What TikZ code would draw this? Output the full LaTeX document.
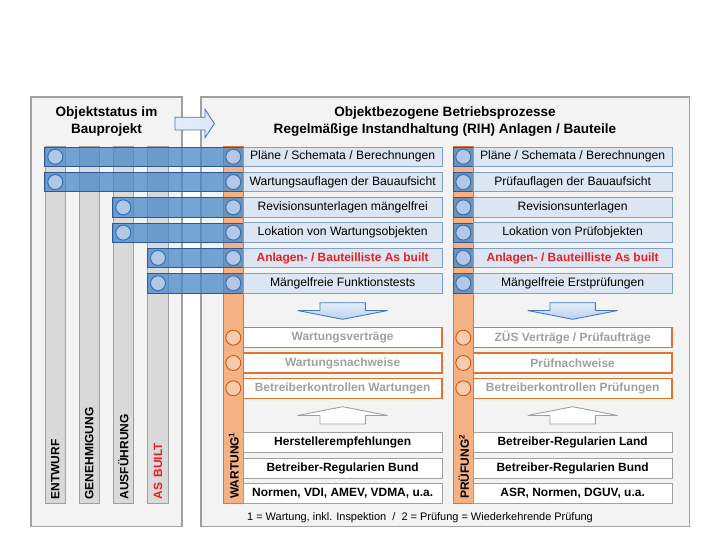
\documentclass[tikz,border=0pt]{standalone}
\usepackage{fontspec}
\setmainfont{Liberation Sans}
\definecolor{panelgray}{RGB}{160,160,160}
\definecolor{panelfill}{RGB}{243,243,243}
\definecolor{barfill}{RGB}{217,217,217}
\definecolor{bandfill}{RGB}{70,135,200}
\definecolor{banddraw}{RGB}{45,90,150}
\definecolor{circfill}{RGB}{180,199,231}
\definecolor{circdraw}{RGB}{46,117,182}
\definecolor{rowfill}{RGB}{220,230,242}
\definecolor{rowdraw}{RGB}{130,160,205}
\definecolor{ocolfill}{RGB}{244,177,131}
\definecolor{ocoldraw}{RGB}{228,115,45}
\definecolor{ocircfill}{RGB}{248,203,173}
\definecolor{ocircdraw}{RGB}{197,90,17}
\definecolor{otext}{RGB}{160,160,160}
\definecolor{redtext}{RGB}{232,30,35}
\definecolor{arrowdraw}{RGB}{70,120,190}
\definecolor{arrowlight}{RGB}{228,237,249}
\definecolor{arrowdark}{RGB}{185,210,240}
\begin{document}
\begin{tikzpicture}[x=1bp,y=-1bp,
  panel/.style={draw=panelgray,fill=panelfill,line width=1.2bp},
  bar/.style={draw=panelgray,fill=barfill,line width=0.8bp},
  band/.style={draw=banddraw,fill=bandfill,fill opacity=0.75,line width=0.7bp},
  ocol/.style={draw=ocoldraw,fill=ocolfill,line width=1bp},
  bcirc/.style={circle,draw=circdraw,fill=circfill,line width=1bp,minimum size=15bp,inner sep=0pt},
  ocirc/.style={circle,draw=ocircdraw,fill=ocircfill,line width=0.9bp,minimum size=15bp,inner sep=0pt},
  rowbox/.style={rectangle,draw=rowdraw,fill=rowfill,line width=0.9bp,minimum width=198.7bp,minimum height=19.5bp,inner sep=0pt,font=\fontsize{12.2}{14}\selectfont},
  obox/.style={rectangle,draw=ocoldraw,fill=white,line width=1.2bp,minimum width=198.7bp,minimum height=20bp,inner sep=0pt,text=otext,font=\fontsize{12}{14}\selectfont\bfseries},
  wbox/.style={rectangle,draw=panelgray,fill=white,line width=1bp,minimum width=198.7bp,minimum height=20bp,inner sep=0pt,font=\fontsize{12}{14}\selectfont\bfseries},
  barlabel/.style={rotate=90,anchor=west,inner sep=0pt,font=\fontsize{12}{14}\selectfont\bfseries},
  title/.style={align=center,inner sep=0pt,font=\fontsize{13.6}{16.5}\selectfont\bfseries},
  redb/.style={text=redtext,font=\fontsize{12}{14}\selectfont\bfseries},
  bigarrow/.style={draw=arrowdraw,line width=0.9bp,top color=arrowlight,bottom color=arrowdark},
  uparrow/.style={draw=panelgray,fill=white,line width=0.9bp}
]
\useasboundingbox (0,0) rectangle (720,540);
% panels
\draw[panel] (31,97) rectangle (182,526.5);
\draw[panel] (201,97) rectangle (689.3,526.5);
% titles
\node[title] (t1) at (106.5,121.5) {Objektstatus im\\Bauprojekt};
\node[title] (t2) at (445,121.5) {Objektbezogene Betriebsprozesse\\Regelmäßige Instandhaltung (RIH) Anlagen / Bauteile};
% top arrow
\draw[draw=arrowdraw,line width=0.9bp,left color=arrowlight,right color=arrowlight!80!arrowdark]
  (175,117.3) -- (205,117.3) -- (205,109.3) -- (214.3,123.6) -- (205,137.8) -- (205,130) -- (175,130) -- cycle;
% bars
\foreach \x in {45,79,113,147.7} \draw[bar] (\x,146.5) rectangle ++(20.5,356.8);
\node[barlabel] (l1) at (55.3,499.5) {ENTWURF};
\node[barlabel] (l2) at (89.3,499.5) {GENEHMIGUNG};
\node[barlabel] (l3) at (123.3,499.5) {AUSFÜHRUNG};
\node[barlabel,text=redtext] (l4) at (158,499.5) {AS\ \,BUILT};
% orange columns
\draw[ocol] (223.3,147) rectangle (243.3,503.3);
\draw[ocol] (453.3,147) rectangle (473.3,503.3);
% bands
\foreach \i/\xs in {1/44.5,2/44.5,3/112.5,4/112.5,5/147.2,6/147.2}{
  \pgfmathsetmacro{\yt}{147+25.3*(\i-1)}
  \draw[band] (\xs,\yt) rectangle (243.3,\yt+19.5);
  \draw[band] (453.3,\yt) rectangle (473.3,\yt+19.5);
}
% circles in bands
\foreach \i/\cx in {1/55.3,2/55.3,3/123.3,4/123.3,5/158,6/158}{
  \pgfmathsetmacro{\yc}{156.75+25.3*(\i-1)}
  \node[bcirc] (bs\i) at (\cx,\yc) {};
  \node[bcirc] (bw\i) at (233.3,\yc) {};
  \node[bcirc] (bp\i) at (463.3,\yc) {};
}
% row boxes Wartung
\node[rowbox] (w1) at (342.65,156.75) {Pläne / Schemata / Berechnungen};
\node[rowbox] (w2) at (342.65,182.05) {Wartungsauflagen der Bauaufsicht};
\node[rowbox] (w3) at (342.65,207.35) {Revisionsunterlagen mängelfrei};
\node[rowbox] (w4) at (342.65,232.65) {Lokation von Wartungsobjekten};
\node[rowbox,redb] (w5) at (342.65,257.95) {Anlagen- / Bauteilliste As built};
\node[rowbox] (w6) at (342.65,283.25) {Mängelfreie Funktionstests};
% row boxes Pruefung
\node[rowbox] (p1) at (572.65,156.75) {Pläne / Schemata / Berechnungen};
\node[rowbox] (p2) at (572.65,182.05) {Prüfauflagen der Bauaufsicht};
\node[rowbox] (p3) at (572.65,207.35) {Revisionsunterlagen};
\node[rowbox] (p4) at (572.65,232.65) {Lokation von Prüfobjekten};
\node[rowbox,redb] (p5) at (572.65,257.95) {Anlagen- / Bauteilliste As built};
\node[rowbox] (p6) at (572.65,283.25) {Mängelfreie Erstprüfungen};
% down and up arrows
\foreach \cx in {342.65,572.65}{
  \draw[bigarrow] (\cx-22.7,302.7) -- (\cx+22.7,302.7) -- (\cx+22.7,310.5) -- (\cx+45,310.5) -- (\cx,319.3) -- (\cx-45,310.5) -- (\cx-22.7,310.5) -- cycle;
  \draw[uparrow] (\cx-22.7,424) -- (\cx+22.7,424) -- (\cx+22.7,415.5) -- (\cx+45,415.5) -- (\cx,406.7) -- (\cx-45,415.5) -- (\cx-22.7,415.5) -- cycle;
}
% orange boxes
\node[obox] (ow1) at (342.65,337.7) {Wartungsverträge};
\node[obox] (ow2) at (342.65,363.0) {Wartungsnachweise};
\node[obox] (ow3) at (342.65,388.3) {Betreiberkontrollen Wartungen};
\node[obox] (op1) at (572.65,337.7) {ZÜS Verträge / Prüfaufträge};
\node[obox] (op2) at (572.65,363.0) {Prüfnachweise};
\node[obox] (op3) at (572.65,388.3) {Betreiberkontrollen Prüfungen};
\foreach \i/\yc in {1/337.7,2/363.0,3/388.3}{
  \node[ocirc] (ocw\i) at (233.3,\yc) {};
  \node[ocirc] (ocp\i) at (463.3,\yc) {};
}
% bottom boxes
\node[wbox] (bw1) at (342.65,442.7) {Herstellerempfehlungen};
\node[wbox] (bw2) at (342.65,468.0) {Betreiber-Regularien Bund};
\node[wbox] (bw3) at (342.65,493.3) {Normen, VDI, AMEV, VDMA, u.a.};
\node[wbox] (bp1) at (572.65,442.7) {Betreiber-Regularien Land};
\node[wbox] (bp2) at (572.65,468.0) {Betreiber-Regularien Bund};
\node[wbox] (bp3) at (572.65,493.3) {ASR, Normen, DGUV, u.a.};
% column labels
\node[barlabel] (wl) at (233.8,499) {WARTUNG\textsuperscript{1}};
\node[barlabel] (pl) at (463.8,499) {PRÜFUNG\textsuperscript{2}};
% footnote
\node[inner sep=0pt,font=\fontsize{11}{13}\selectfont] (fn) at (420,517.5) {1 = Wartung, inkl. Inspektion \ / \ 2 = Prüfung = Wiederkehrende Prüfung};
\end{tikzpicture}
\end{document}
